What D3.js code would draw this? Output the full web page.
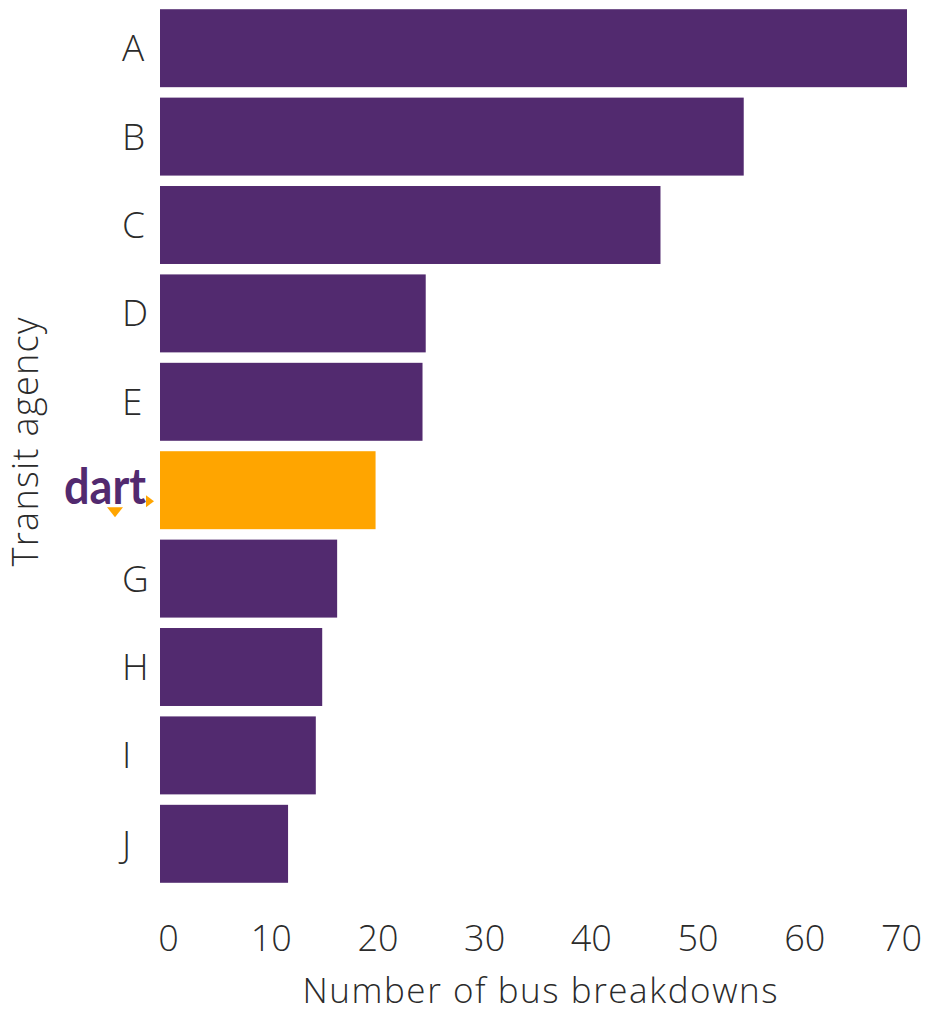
<!DOCTYPE html>
<html>
<head>
<meta charset="utf-8">
<script src="https://cdn.jsdelivr.net/npm/d3@7"></script>
<style>
  body { margin: 0; background: #fff; }
  text { font-family: "Open Sans", "Lato", "DejaVu Sans", sans-serif; font-weight: 300; fill: #2b2b2b; }
</style>
</head>
<body>
<div id="chart"></div>
<script>
var agencies = ["A", "B", "C", "D", "E", "dart", "G", "H", "I", "J"];
var breakdowns = [70.0, 54.7, 46.9, 24.9, 24.6, 20.2, 16.6, 15.2, 14.6, 12.0];
var xTicks = [0, 10, 20, 30, 40, 50, 60, 70];

var purple = "#522a6f";
var orange = "#ffa500";

var width = 926, height = 1012;

var svg = d3.select("#chart").append("svg")
    .attr("width", width)
    .attr("height", height);

var x = d3.scaleLinear().domain([0, 70]).range([160, 907]);
var y = d3.scaleBand().domain(agencies).range([4, 888])
    .paddingInner(0.118).paddingOuter(0.059);

var data = agencies.map(function (d, i) { return { name: d, value: breakdowns[i] }; });

// bars
svg.append("g").selectAll("rect")
    .data(data)
    .enter()
    .append("rect")
    .attr("x", x(0))
    .attr("y", function (d) { return y(d.name); })
    .attr("width", function (d) { return x(d.value) - x(0); })
    .attr("height", y.bandwidth())
    .attr("fill", function (d) { return d.name == "dart" ? orange : purple; });

// x axis
var xAxis = svg.append("g")
    .attr("transform", "translate(0," + 900 + ")")
    .call(d3.axisBottom(x).tickValues(xTicks).tickSize(0).tickPadding(0));
xAxis.select(".domain").remove();
xAxis.selectAll("text")
    .attr("dy", "0")
    .attr("y", 51)
    .attr("dx", function (d) { return d == 70 ? -6 : (d == 0 ? 8 : 4); })
    .style("font-size", "36px")
    .style("font-family", "'Open Sans', sans-serif")
    .style("font-weight", "300")
    .style("fill", "#2b2b2b");

// y labels
var yLab = svg.append("g");
yLab.selectAll("text")
    .data(agencies.filter(function (d) { return d != "dart"; }))
    .enter()
    .append("text")
    .attr("x", 122)
    .attr("y", function (d) { return y(d) + y.bandwidth() / 2 + 13; })
    .style("font-size", "37px")
    .text(function (d) { return d; });

// dart logo as text + triangles
var dy = y("dart") + y.bandwidth() / 2;
var logo = svg.append("g");
logo.append("text")
    .attr("x", 64)
    .attr("y", dy + 14)
    .attr("textLength", 82)
    .attr("lengthAdjust", "spacingAndGlyphs")
    .style("font-family", "Lato, sans-serif")
    .style("font-size", "50px")
    .style("font-weight", "bold")
    .style("fill", purple)
    .text("dart");
logo.append("path")
    .attr("d", "M" + 107 + "," + (dy + 17) + "L" + 123 + "," + (dy + 17) + "L" + 115 + "," + (dy + 27) + "Z")
    .attr("fill", orange);
logo.append("path")
    .attr("d", "M" + 146 + "," + (dy + 5) + "L" + 154 + "," + (dy + 11) + "L" + 146 + "," + (dy + 17) + "Z")
    .attr("fill", orange);

// axis titles
svg.append("text")
    .attr("x", 540)
    .attr("y", 1003)
    .attr("text-anchor", "middle")
    .attr("textLength", 475)
    .style("font-size", "35px")
    .text("Number of bus breakdowns");

svg.append("text")
    .attr("transform", "translate(38," + 442 + ") rotate(-90)")
    .attr("text-anchor", "middle")
    .attr("textLength", 249)
    .style("font-size", "36px")
    .text("Transit agency");
</script>
</body>
</html>
